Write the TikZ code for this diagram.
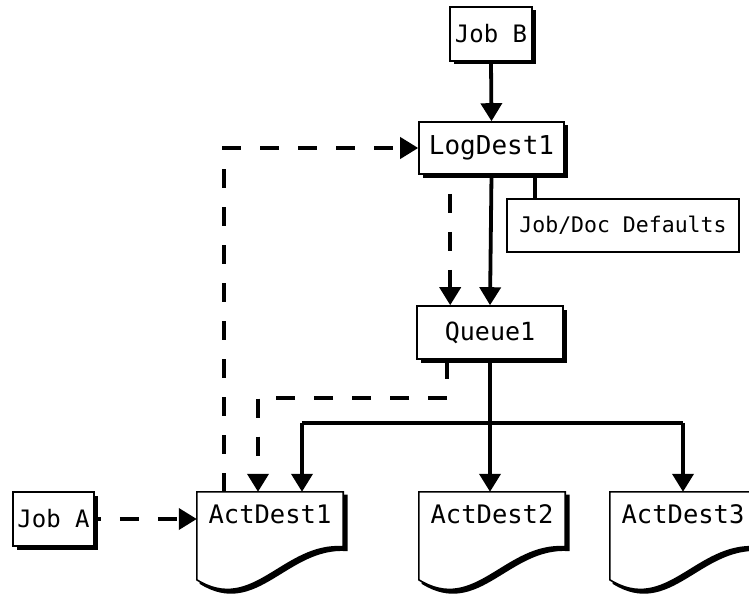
\documentclass[tikz,border=0pt]{standalone}
\usepackage{fontspec}
\setmonofont{DejaVu Sans Mono}
\usetikzlibrary{arrows.meta,calc,shadows}
\tikzset{
  box/.style={draw=black, line width=1.6pt, fill=white, inner sep=0pt, font=\ttfamily,
    drop shadow={shadow xshift=3.5pt, shadow yshift=-3.5pt, fill=black, opacity=1}},
  plainbox/.style={draw=black, line width=1.6pt, fill=white, inner sep=0pt, font=\ttfamily},
  docnode/.style={inner sep=0pt, minimum width=146pt, minimum height=44pt, font=\ttfamily\fontsize{25.5}{25.5}\selectfont},
  tip/.style={-{Triangle[length=18pt,width=21pt]}},
  conn/.style={line width=3.8pt, tip},
  plainconn/.style={line width=3.8pt},
  dashconn/.style={line width=3.8pt, dash pattern=on 19pt off 19pt},
  docline/.style={line width=1.6pt, draw=black},
  docshadow/.style={fill=black, draw=black, line width=1.6pt},
}
% #1 node name, #2 x offset, #3 y offset (downwards)
\newcommand\docpath[3]{($(#1.north west)+(#2,#3)$) -- ($(#1.north east)+(#2,#3)$) -- ($(#1.north east)+(#2,55+#3)$)
    .. controls ($(#1.north east)+(-60+#2,51+#3)$) and ($(#1.north east)+(-90+#2,123+#3)$) .. ($(#1.north west)+(#2,88+#3)$) -- cycle}
\newcommand\docshape[1]{%
  \draw[docshadow] \docpath{#1}{3.5}{3.5};
  \draw[docline, fill=white] \docpath{#1}{0}{0};
}
\begin{document}
\begin{tikzpicture}[x=1pt,y=-1pt]
\useasboundingbox (0,0) rectangle (749,599);
\clip (0,0) rectangle (749,599);
% boxes
\node[box, minimum width=82pt, minimum height=54pt, font=\ttfamily\fontsize{24}{24}\selectfont] (jobB) at (491,34) {Job B};
\node[box, minimum width=145pt, minimum height=52pt, font=\ttfamily\fontsize{26}{26}\selectfont] (log) at (491.5,148) {LogDest1};
\node[plainbox, minimum width=232pt, minimum height=53pt, font=\ttfamily\fontsize{21.5}{21.5}\selectfont] (jd) at (623,225.5) {Job/Doc Defaults};
\node[box, minimum width=146pt, minimum height=53pt, font=\ttfamily\fontsize{25}{25}\selectfont] (queue) at (490,332.5) {Queue1};
\node[box, minimum width=81pt, minimum height=54pt, font=\ttfamily\fontsize{24}{24}\selectfont] (jobA) at (53.5,519) {Job A};
% document shapes
\node[docnode] (ad1) at (270,514) {};
\node[docnode] (ad2) at (492,514) {};
\node[docnode] (ad3) at (683,514) {};
\docshape{ad1}
\docshape{ad2}
\docshape{ad3}
\node[docnode] at (ad1) {ActDest1};
\node[docnode] at (ad2) {ActDest2};
\node[docnode] at (ad3) {ActDest3};
% connectors
\draw[conn] (jobB.south) -- (log.north);
\draw[conn] (log.south) -- (queue.north);
\coordinate (jdtop) at ($(log.south east)+(-30,0)$);
\draw[plainconn] (jdtop) -- (jdtop |- jd.north);
\coordinate (ldl) at ($(log.south west)+(32,0)$);
\draw[dashconn, tip] ($(ldl)+(0,19)$) -- (ldl |- queue.north);
\draw[conn] (queue.south) -- (queue.south |- ad2.north);
\coordinate (bar) at ($(queue.south)+(0,63)$);
\draw[plainconn] (bar -| ad3.north) -- (bar -| 302,0);
\draw[conn] (bar -| 302,0) -- (302,0 |- ad1.north);
\draw[conn] (bar -| ad3.north) -- (ad3.north);
\coordinate (qd) at ($(queue.south west)+(31,0)$);
\draw[dashconn, tip] (qd) -- ++(0,38) -| (258,0 |- ad1.north);
\coordinate (ad1up) at (224,0 |- ad1.north);
\draw[dashconn, tip] (ad1up) |- (log.west);
\draw[dashconn, dash phase=13pt, tip] (jobA.east) -- (ad1.west |- jobA.east);
\end{tikzpicture}
\end{document}
